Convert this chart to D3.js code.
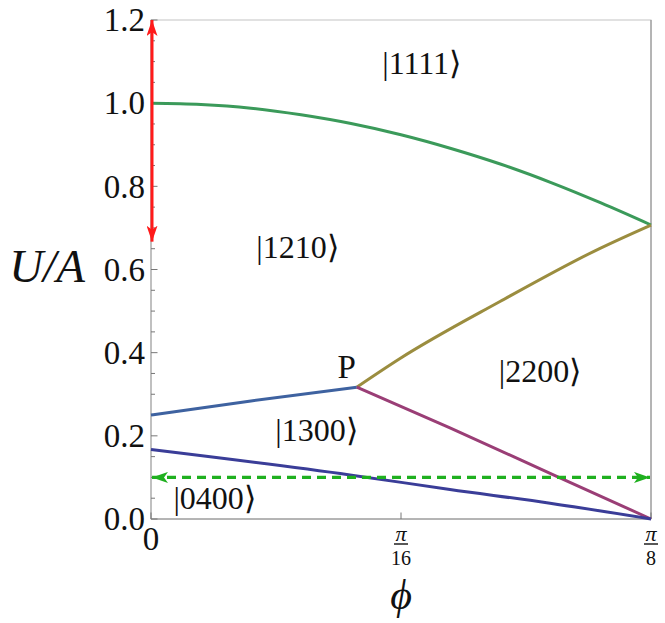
<!DOCTYPE html>
<html lang="en">
<head>
<meta charset="UTF-8">
<title>U/A phase diagram</title>
<script src="https://d3js.org/d3.v7.min.js"></script>
<style>
  body { margin: 0; background: #fff; }
  text { font-family: "Liberation Serif", "Times New Roman", serif; fill: #111; }
</style>
</head>
<body>
<svg width="665" height="623"></svg>
<script>
  var greenPhi = [0, 0.0393, 0.0785, 0.1178, 0.1571, 0.1963, 0.2356, 0.2749, 0.3142, 0.3534, 0.3927];
  var greenU   = [1.0, 0.997, 0.988, 0.972, 0.951, 0.924, 0.891, 0.853, 0.809, 0.760, 0.707];
  var oliveP   = [0.1616, 0.1956, 0.2741, 0.3527, 0.3927];
  var oliveU   = [0.317, 0.386, 0.523, 0.651, 0.707];
  var bluePhi  = [0, 0.0785, 0.1616];
  var blueU    = [0.250, 0.284, 0.317];
  var purplePhi = [0.1616, 0.2348, 0.3212, 0.3927];
  var purpleU   = [0.317, 0.219, 0.099, 0];
  var navyPhi  = [0, 0.1563, 0.2348, 0.3134, 0.3927];
  var navyU    = [0.167, 0.106, 0.071, 0.038, 0];

  var dashedU = 0.1;
  var redArrowU = [0.667, 1.2];
  var pointP = {phi: 0.1616, u: 0.317};

  var yTicks = [0, 0.2, 0.4, 0.6, 0.8, 1.0, 1.2];
  var yMinor = d3.range(0, 1.2001, 0.05);
  var xTicks = [{v: 0, num: "0"}, {v: Math.PI / 16, num: "\u03c0", den: "16"}, {v: Math.PI / 8, num: "\u03c0", den: "8"}];

  var states = [
    {name: "1111", phi: 0.2126, u: 1.07},
    {name: "1210", phi: 0.1150, u: 0.628},
    {name: "2200", phi: 0.3055, u: 0.330},
    {name: "1300", phi: 0.1300, u: 0.187},
    {name: "0400", phi: 0.0500, u: 0.025}
  ];

  var svg = d3.select("svg");
  var margin = {left: 151, right: 14, top: 20, bottom: 104};
  var w = 665 - margin.left - margin.right;
  var h = 623 - margin.top - margin.bottom;

  var x = d3.scaleLinear().domain([0, Math.PI / 8]).range([0, w]);
  var y = d3.scaleLinear().domain([0, 1.2]).range([h, 0]);

  var defs = svg.append("defs");
  function marker(id, color, len, half) {
    defs.append("marker")
      .attr("id", id)
      .attr("viewBox", "0 " + (-half) + " " + len + " " + (2 * half))
      .attr("refX", len).attr("refY", 0)
      .attr("markerUnits", "userSpaceOnUse")
      .attr("markerWidth", len).attr("markerHeight", 2 * half)
      .attr("orient", "auto-start-reverse")
      .append("path")
      .attr("d", "M0," + (-half) + "L" + len + ",0L0," + half + "L" + (len * 0.25) + ",0Z")
      .attr("fill", color);
  }
  marker("redHead", "#ff1a1a", 16, 5.5);
  marker("greenHead", "#1fb01f", 16, 5.5);

  var g = svg.append("g").attr("transform", "translate(" + margin.left + "," + margin.top + ")");

  // frame
  g.append("rect").attr("width", w).attr("height", h)
    .attr("fill", "none").attr("stroke", "#c4c4c4").attr("stroke-width", 1);
  g.append("line").attr("x1", w).attr("x2", w).attr("y1", 0).attr("y2", h)
    .attr("stroke", "#888").attr("stroke-width", 1);
  g.append("line").attr("x1", 0).attr("x2", w).attr("y1", h).attr("y2", h)
    .attr("stroke", "#888").attr("stroke-width", 1.2);
  g.append("line").attr("x1", 0).attr("x2", 0).attr("y1", 0).attr("y2", h)
    .attr("stroke", "#aaa").attr("stroke-width", 1.2);

  // y ticks, pointing inward
  g.selectAll(".ym").data(yMinor).enter().append("line")
    .attr("x1", 0).attr("y1", d => y(d)).attr("y2", d => y(d))
    .attr("x2", d => Math.abs(d * 5 - Math.round(d * 5)) < 1e-6 ? 6.5 : 4)
    .attr("stroke", "#777").attr("stroke-width", 1);
  g.selectAll(".yl").data(yTicks).enter().append("text")
    .attr("x", -6).attr("y", d => y(d)).attr("dy", "0.34em")
    .attr("text-anchor", "end").style("font-size", "33px")
    .text(d => d.toFixed(1));

  // x ticks
  g.selectAll(".xt").data(xTicks).enter().append("line")
    .attr("x1", d => x(d.v)).attr("x2", d => x(d.v))
    .attr("y1", h).attr("y2", h - 6.5)
    .attr("stroke", "#777").attr("stroke-width", 1);
  xTicks.forEach(function(t) {
    var cx = x(t.v);
    if (!t.den) {
      g.append("text").attr("x", cx).attr("y", h + 31).attr("text-anchor", "middle")
        .style("font-size", "33px").text(t.num);
    } else {
      g.append("text").attr("x", cx).attr("y", h + 22).attr("text-anchor", "middle")
        .style("font-size", "22px").style("font-style", "italic").text(t.num);
      g.append("line").attr("x1", cx - 7).attr("x2", cx + 7)
        .attr("y1", h + 25).attr("y2", h + 25).attr("stroke", "#111").attr("stroke-width", 1.4);
      g.append("text").attr("x", cx).attr("y", h + 46).attr("text-anchor", "middle")
        .style("font-size", "20px").text(t.den);
    }
  });

  // axis titles
  svg.append("text").attr("x", 47).attr("y", 282).attr("text-anchor", "middle")
    .style("font-size", "47px").style("font-style", "italic").text("U/A");
  svg.append("text").attr("x", margin.left + x(Math.PI / 16)).attr("y", 609).attr("text-anchor", "middle")
    .style("font-size", "42px").style("font-style", "italic").text("\u03d5");

  var line = d3.line().x(d => x(d[0])).y(d => y(d[1])).curve(d3.curveMonotoneX);
  function curve(phis, us, color) {
    g.append("path").datum(d3.zip(phis, us)).attr("d", line)
      .attr("fill", "none").attr("stroke", color).attr("stroke-width", 3);
  }
  curve(greenPhi, greenU, "#3b9a5a");
  curve(oliveP, oliveU, "#9b8d3f");
  curve(bluePhi, blueU, "#3e62a0");
  curve(purplePhi, purpleU, "#9a3e76");
  curve(navyPhi, navyU, "#3a3d98");

  // dashed double arrow
  g.append("line")
    .attr("x1", x(0) + 1).attr("x2", x(Math.PI / 8) - 1)
    .attr("y1", y(dashedU)).attr("y2", y(dashedU))
    .attr("stroke", "#1fb01f").attr("stroke-width", 3.2)
    .attr("stroke-dasharray", "9,6")
    .attr("marker-start", "url(#greenHead)").attr("marker-end", "url(#greenHead)");

  // red double arrow
  g.append("line")
    .attr("x1", x(0) + 1).attr("x2", x(0) + 1)
    .attr("y1", y(redArrowU[0])).attr("y2", y(redArrowU[1]))
    .attr("stroke", "#ff1a1a").attr("stroke-width", 3)
    .attr("marker-start", "url(#redHead)").attr("marker-end", "url(#redHead)");

  // point P
  g.append("text").attr("x", x(pointP.phi) - 10).attr("y", y(pointP.u) - 9)
    .attr("text-anchor", "middle").style("font-size", "33px").text("P");

  // state labels
  g.selectAll(".st").data(states).enter().append("text")
    .attr("x", d => x(d.phi)).attr("y", d => y(d.u))
    .attr("text-anchor", "middle").style("font-size", "32px")
    .text(d => "|" + d.name + "\u27e9");
</script>
</body>
</html>
